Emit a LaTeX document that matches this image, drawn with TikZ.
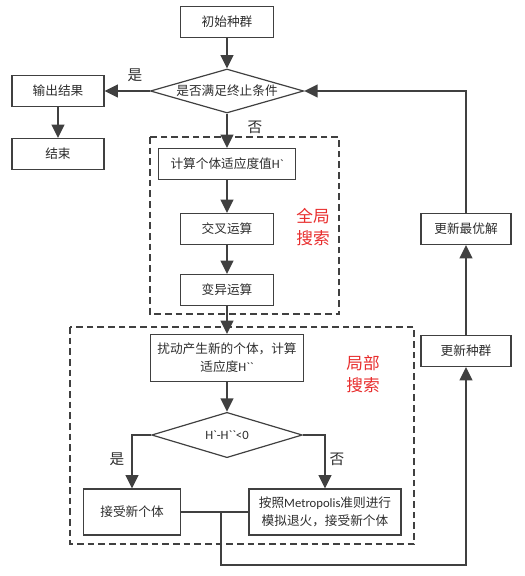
\documentclass[tikz,border=0pt]{standalone}
\usepackage{fontspec}
\setmainfont{Noto Sans CJK SC}
\newfontfamily\lat{Carlito}
\usetikzlibrary{shapes.geometric,arrows.meta}
\definecolor{linegray}{RGB}{64,64,64}
\definecolor{textgray}{RGB}{45,45,45}
\definecolor{searchred}{RGB}{232,45,45}

\begin{document}
\begin{tikzpicture}[x=0.75pt,y=-0.75pt,
	every node/.style={font=\fontsize{9.5}{13.5}\selectfont,text=textgray},
	box/.style={draw=linegray,line width=0.9pt,inner sep=0pt,align=center,
		minimum width=70pt,minimum height=23pt},
	cond/.style={draw=linegray,line width=0.9pt,diamond,inner sep=0pt,aspect=3.5},
	flow/.style={draw=linegray,line width=1.5pt,-{Triangle[length=10pt,width=9.5pt]}},
	yesno/.style={font=\fontsize{11}{13}\selectfont},
	zone/.style={draw=linegray,line width=0.9pt,dash pattern=on 5pt off 3pt},
	area/.style={text=searchred,font=\fontsize{12.5}{17}\selectfont,align=center}]
		\useasboundingbox (0,0) rectangle (525,576);
		% main column
		\node[box] (init) at (227,22) {初始种群};
		\node[cond,minimum width=115pt,minimum height=33pt] (stop) at (227,91) {是否满足终止条件};
		\node[box,minimum width=69pt] (out) at (58,91) {输出结果};
		\node[box,minimum width=69pt] (end) at (58,154) {结束};
		\node[box,minimum width=103pt] (calc) at (227,164) {计算个体适应度值{\lat H\textasciigrave}};
		\node[box] (cross) at (227,229) {交叉运算};
		\node[box] (mut) at (227,290) {变异运算};
		\node[box,minimum width=115pt,minimum height=35pt] (pert) at (227,358)
		{扰动产生新的个体，计算\\适应度{\lat H\textasciigrave\textasciigrave}};
		\node[cond,aspect=3.3,minimum width=113pt,minimum height=34pt] (judge) at (227,435)
		{\lat H\textasciigrave-H\textasciigrave\textasciigrave<0};
		\node[box,minimum width=73pt,minimum height=34.5pt] (accept) at (132,512) {接受新个体};
		\node[box,minimum width=114pt,minimum height=34.5pt] (metro) at (325,512)
		{按照{\lat Metropolis}准则进行\\模拟退火，接受新个体};
		% right column
		\node[box,minimum width=67.5pt] (best) at (466,229) {更新最优解};
		\node[box,minimum width=67.5pt] (updpop) at (466,351) {更新种群};
		% search zones
		\draw[zone] (150,137) rectangle (339,314);
		\draw[zone] (70,327) rectangle (414,544);
		\node[area] (glob) at (313,227) {全局\\搜索};
		\node[area] (loc) at (363,374) {局部\\搜索};
		% labels
		\node[yesno] (yes1) at (135,75) {是};
		\node[yesno] (no1) at (255,127) {否};
		\node[yesno] (yes2) at (117,459) {是};
		\node[yesno] (no2) at (337,459) {否};
		% connectors
		\draw[flow] (init) -- (stop);
		\draw[flow] (stop) -- (out);
		\draw[flow] (out) -- (end);
		\draw[flow] (stop) -- (calc);
		\draw[flow] (calc) -- (cross);
		\draw[flow] (cross) -- (mut);
		\draw[flow] (mut) -- (pert);
		\draw[flow] (pert) -- (judge);
		\draw[flow] (judge.west) -| (accept.north);
		\draw[flow] (judge.east) -| (metro.north);
		\draw[draw=linegray,line width=1.5pt] (accept) -- (metro);
		\coordinate (join) at (221,512);
		\coordinate (low) at (221,565);
		\draw[flow] (join) -- (low) -| (updpop);
		\draw[flow] (updpop) -- (best);
		\draw[flow] (best) |- (stop.east);
	\end{tikzpicture}
\end{document}
